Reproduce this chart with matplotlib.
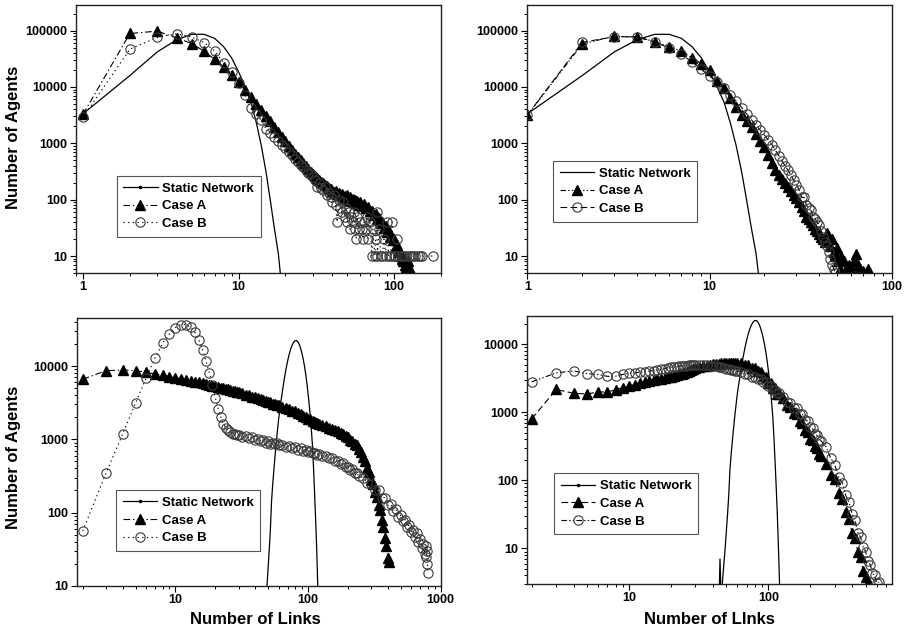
import matplotlib
matplotlib.use("Agg")
import numpy as np
import matplotlib.pyplot as plt
from matplotlib.lines import Line2D
from matplotlib.ticker import LogLocator, NullFormatter

plt.rcParams["font.family"] = ["Liberation Sans", "DejaVu Sans"]

# ---------------- data ----------------
# static network degree distribution (top row)
top_static_x = list(range(1, 20))
top_static = [3350, 16000, 42000, 69000, 86000, 86000, 73000, 52000, 33000, 18500,
              10000, 5400, 2300, 900, 310, 95, 30, 11, 2.5]

# top-left, case A
p1_a_x = list(range(1, 61)) + list(range(62, 127, 2))
p1_a = [3300, 89000, 98000, 74500, 59000, 43000, 31000, 22700, 16100, 12300,
        9000, 6600, 5000, 3900, 3100, 2450, 1950, 1600, 1300, 1080,
        900, 770, 660, 570, 500, 440, 390, 350, 315, 285,
        262, 240, 225, 206, 195, 180, 172, 160, 154, 145,
        138, 142, 128, 133, 120, 126, 112, 118, 106, 120,
        100, 110, 96, 104, 90, 100, 86, 94, 80, 92,
        78, 84, 70, 74, 62, 64, 54, 56, 46, 48, 38, 40, 32, 34, 27, 28, 22,
        23, 19, 20, 15, 16, 12, 13, 10, 9, 8, 9, 7, 6.5, 8, 5.5, 6]

# top-left, case B
p1_b_x = list(range(1, 61)) + [62, 63, 64, 66, 67, 68, 70, 72, 73, 75, 76, 77, 78, 80,
                               82, 84, 86, 88, 90, 92, 95, 97, 99, 101, 104, 106, 110,
                               113, 116, 120, 124, 128, 132, 137, 142, 147, 152, 177]
p1_b = [2900, 47000, 76000, 88000, 77000, 61000, 44000, 27000, 18500, 12000,
        7200, 4200, 3300, 2600, 1800, 1550, 1300, 1100, 950, 820,
        700, 620, 520, 470, 420, 380, 330, 300, 280, 250,
        220, 170, 200, 160, 150, 170, 120, 130, 110, 90,
        120, 80, 40, 100, 70, 60, 90, 50, 70, 40,
        60, 30, 50, 40, 60, 30, 20, 50, 30, 40,
        30, 20, 40, 30, 50, 20, 40, 10, 30, 10, 20, 60, 10, 30,
        10, 10, 20, 10, 40, 10, 10, 40, 10, 10, 20, 10, 10,
        10, 10, 10, 10, 10, 10, 10, 10, 10, 10, 10]

# top-right, case A
p2_a_x = list(range(1, 51)) + [51, 52, 53, 55, 56, 58, 60, 62, 64, 65, 67, 70, 74]
p2_a = [3200, 58000, 80000, 76000, 64000, 52000, 43000, 33000, 26000, 20000,
        13000, 9500, 6500, 4500, 3200, 2500, 1950, 1450, 1100, 850,
        620, 450, 340, 270, 230, 195, 165, 140, 120, 105,
        90, 75, 62, 50, 45, 40, 35, 30, 28, 25,
        22, 20, 18, 26, 22, 15, 20, 12, 10, 14,
        8, 6, 10, 8, 6, 7, 6, 8, 11, 7, 6, 5.5, 6]

# top-right, case B
p2_b_x = list(range(1, 50))
p2_b = [3200, 62000, 78000, 78000, 63000, 49000, 38000, 28000, 20500, 15600,
        12300, 9500, 7100, 5600, 4300, 3300, 2600, 2100, 1700, 1400,
        1150, 950, 750, 600, 480, 400, 330, 270, 220, 185,
        150, 110, 110, 80, 70, 65, 50, 45, 40, 35,
        28, 22, 18, 15, 12, 9, 7, 6, 5]

# static network degree distribution (bottom row)
bot_static_x = [44, 45, 46, 47, 48, 49, 50, 51, 52, 53, 54, 55, 56, 57, 58,
                60, 62, 64, 66, 68, 70, 72, 74, 76, 78, 80,
                82, 84, 86, 88, 90, 92, 94, 96, 98, 100, 102, 104, 106, 108,
                110, 112, 114, 116, 117, 118, 119, 120, 121, 122]
bot_static = [1, 7, 1.5, 3.5, 6, 10, 18, 32, 60, 140, 230, 350, 520, 750, 1050,
              1900, 3000, 4500, 6500, 8900, 11600, 14500, 17200, 19500, 21300, 22300,
              22300, 21300, 19600, 17300, 14800, 12300, 9900, 7700, 5800, 4200,
              2950, 2000, 1300, 800, 400, 180, 80, 34, 20, 12, 7, 4, 2.2, 1.2]

dense_x = (list(range(2, 31)) + list(range(32, 61, 2)) + list(range(64, 121, 4))
           + list(range(128, 241, 8)))

# bottom-left, case A
p3_a_x = dense_x + list(range(250, 411, 10))
p3_a = [6600, 8700, 8800, 8700, 8200, 7800, 7500, 7200, 6900, 6650,
        6400, 6250, 6100, 6000, 5850, 5700, 5550, 5400, 5300, 5200,
        5100, 5000, 4900, 4800, 4700, 4600, 4500, 4450, 4370,
        4300, 4050, 4000, 3800, 3740, 3700, 3500, 3480, 3300, 3250,
        3200, 3050, 3080, 2900, 2930,
        2800, 2680, 2600, 2470, 2400, 2280, 2220, 2100, 2020, 1900,
        1870, 1780, 1740, 1660, 1640,
        1560, 1520, 1430, 1400, 1320, 1290, 1210, 1180, 1100, 1070,
        990, 960, 870, 830, 740,
        680, 570, 510, 410, 360, 280, 245, 190, 165, 125, 108, 80, 64, 45, 35, 24, 21]

# bottom-left, case B
p3_b_x = dense_x + list(range(260, 761, 20)) + [770, 780, 790, 795, 800]
p3_b = [56, 350, 1180, 3150, 6800, 12900, 20500, 27500, 33500, 37000,
        37000, 34000, 29000, 23000, 16800, 11700, 8100, 5600, 3700, 2580,
        2000, 1620, 1430, 1320, 1250, 1200, 1170, 1150, 1130,
        1080, 1110, 1040, 1060, 980, 1010, 940, 970, 900, 940,
        870, 900, 850, 880, 830,
        840, 790, 810, 760, 780, 720, 750, 690, 720, 670,
        690, 640, 660, 610, 630,
        590, 600, 550, 555, 505, 510, 460, 470, 420, 415,
        385, 390, 345, 350, 320,
        300, 255, 245, 205, 200, 160, 160, 125, 130, 105, 110, 88, 92, 76,
        80, 64, 68, 54, 58, 46, 52, 40, 44, 33, 37, 27,
        35, 25, 30, 20, 15]

# bottom-right, case A
p4_a_x = dense_x + list(range(260, 521, 20))
p4_a = [800, 2170, 1900, 1860, 1990, 1990, 2140, 2300, 2440, 2550,
        2650, 2750, 2850, 2950, 3050, 3130, 3200, 3270, 3330, 3420,
        3500, 3600, 3700, 3800, 3900, 4000, 4150, 4300, 4440,
        4600, 4750, 4850, 4950, 5080, 5150, 5200, 5250, 5300, 5370,
        5380, 5380, 5370, 5350, 5300,
        5300, 4950, 4950, 4500, 4450, 4000, 3900, 3400, 3250, 2700,
        2650, 2250, 2250, 1850, 1880,
        1600, 1300, 1200, 980, 940, 740, 700, 550, 520, 410,
        395, 315, 300, 240, 230,
        175, 118, 105, 66, 53, 34, 27, 17, 14, 9, 7.5, 4.7, 3.8, 3.1]

# bottom-right, case B
p4_b_x = dense_x + list(range(260, 621, 20))
p4_b = [2800, 3800, 4050, 3700, 3600, 3370, 3400, 3600, 3750, 3800,
        3900, 3950, 4050, 4100, 4200, 4300, 4400, 4500, 4600, 4650,
        4700, 4750, 4800, 4830, 4860, 4900, 4920, 4950, 4950,
        4950, 4950, 4900, 4850, 4800, 4750, 4700, 4600, 4500, 4400,
        4300, 4250, 4150, 4080, 4000,
        3950, 3650, 3650, 3350, 3350, 3050, 3050, 2750, 2750, 2450,
        2450, 2150, 2150, 1900, 1920,
        1700, 1440, 1370, 1160, 1140, 960, 930, 780, 740, 600,
        580, 480, 460, 390, 380,
        310, 215, 170, 112, 92, 60, 48, 32, 26, 17, 14.5, 10.5, 9, 6.6,
        5.8, 4.3, 4.0, 3.1, 3.2]

# ---------------- drawing ----------------
W, H = 905, 632
fig = plt.figure(figsize=(W / 100, H / 100), dpi=100)


def box(l, r, t, b):
    return [l / W, 1 - b / H, (r - l) / W, (b - t) / H]


DASHDOT = (0, (6, 2.5, 1.2, 2.5))
DOTTED = (0, (1.2, 3))
DASHED = (0, (6, 3))
DASHDOTDOT = (0, (5, 2, 1.2, 2, 1.2, 2))

tri = dict(marker="^", ms=6.5, mfc="black", mec="black", color="black", lw=0.8)
circ = dict(marker="o", ms=6.7, mfc="none", mec="#3a3a3a", mew=0.8, color="black", lw=0.8)


def style(ax, xlim, ylim, xticks, yticks):
    ax.set_xscale("log")
    ax.set_yscale("log")
    ax.set_xlim(*xlim)
    ax.set_ylim(*ylim)
    ax.set_xticks(xticks)
    ax.set_xticklabels([f"{int(v)}" for v in xticks], fontweight="bold", fontsize=9)
    ax.set_yticks(yticks)
    ax.set_yticklabels([f"{int(v)}" for v in yticks], fontweight="bold", fontsize=9)
    for axis in (ax.xaxis, ax.yaxis):
        axis.set_minor_locator(LogLocator(base=10, subs=np.arange(2, 10), numticks=30))
        axis.set_minor_formatter(NullFormatter())
    ax.tick_params(which="major", direction="out", length=4, width=0.8, pad=2)
    ax.tick_params(which="minor", direction="out", length=2.5, width=0.7)
    ax.tick_params(top=False, right=False, which="both")
    for s in ax.spines.values():
        s.set_linewidth(1.0)
        s.set_color("#222222")


def legend(ax, anchor, static_dot=True):
    handles, labels = ax.get_legend_handles_labels()
    if static_dot:
        handles[0] = Line2D([], [], color="black", lw=0.9, marker=".", ms=3)
    leg = ax.legend(handles, labels, loc="upper left", bbox_to_anchor=anchor,
                    borderaxespad=0, fancybox=False, framealpha=1, edgecolor="#555555",
                    handlelength=2.6, handletextpad=0.35, labelspacing=0.42,
                    borderpad=0.5, numpoints=1,
                    prop={"weight": "bold", "size": 9.5})
    leg.get_frame().set_linewidth(0.8)


# top-left
ax1 = fig.add_axes(box(76, 441, 5, 273))
ax1.plot(top_static_x, top_static, "-", color="black", lw=0.9, label="Static Network")
ax1.plot(p1_a_x, p1_a, linestyle=DASHDOT, label="Case A", **tri)
ax1.plot(p1_b_x, p1_b, linestyle=DOTTED, label="Case B", **circ)
style(ax1, (0.9, 200), (5, 2.85e5), [1, 10, 100], [10, 100, 1000, 10000, 100000])
legend(ax1, (0.1115, 0.363))

# top-right
ax2 = fig.add_axes(box(526.7, 891.7, 5, 273))
ax2.plot(top_static_x, top_static, "-", color="black", lw=0.9, label="Static Network")
ax2.plot(p2_a_x, p2_a, linestyle=DASHDOTDOT, label="Case A", **tri)
ax2.plot(p2_b_x, p2_b, linestyle=DASHED, label="Case B", **circ)
style(ax2, (0.99, 100), (5, 2.85e5), [1, 10, 100], [10, 100, 1000, 10000, 100000])
legend(ax2, (0.073, 0.419), static_dot=False)

# bottom-left
ax3 = fig.add_axes(box(76.7, 440.7, 318.3, 585.7))
ax3.plot(bot_static_x, bot_static, "-", color="black", lw=0.9, label="Static Network")
ax3.plot(p3_a_x, p3_a, linestyle=DASHDOT, label="Case A", **tri)
ax3.plot(p3_b_x, p3_b, linestyle=DOTTED, label="Case B", **circ)
style(ax3, (1.8, 1000), (10, 45000), [10, 100, 1000], [10, 100, 1000, 10000])
legend(ax3, (0.108, 0.358))

# bottom-right
ax4 = fig.add_axes(box(526.7, 891.7, 316, 584))
ax4.plot(bot_static_x, bot_static, "-", color="black", lw=0.9, label="Static Network")
ax4.plot(p4_a_x, p4_a, linestyle=DASHED, label="Case A", **tri)
ax4.plot(p4_b_x, p4_b, linestyle=DASHDOTDOT, label="Case B", **circ)
style(ax4, (1.84, 770), (3, 26000), [10, 100], [10, 100, 1000, 10000])
legend(ax4, (0.0756, 0.413))

# axis titles
fig.text(14 / W, 1 - 137 / H, "Number of Agents", rotation=90, ha="center", va="center",
         fontsize=12, fontweight="bold")
fig.text(14 / W, 1 - 457 / H, "Number of Agents", rotation=90, ha="center", va="center",
         fontsize=12, fontweight="bold")
fig.text(255 / W, 1 - 620 / H, "Number of Links", ha="center", va="center",
         fontsize=12, fontweight="bold")
fig.text(709.5 / W, 1 - 620 / H, "Number of LInks", ha="center", va="center",
         fontsize=12, fontweight="bold")

fig.savefig("out.png", dpi=100)
